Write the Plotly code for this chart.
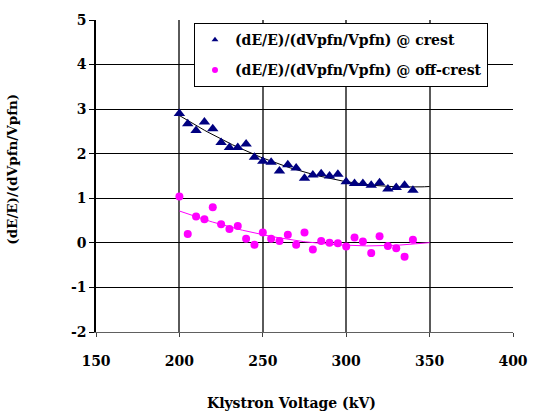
import numpy as np
import plotly.graph_objects as go

voltage = [200, 205, 210, 215, 220, 225, 230, 235, 240, 245, 250, 255, 260, 265,
           270, 275, 280, 285, 290, 295, 300, 305, 310, 315, 320, 325, 330, 335, 340]
crest = [2.90, 2.67, 2.52, 2.71, 2.56, 2.25, 2.14, 2.14, 2.22, 1.92, 1.83, 1.81, 1.61, 1.75,
         1.68, 1.45, 1.52, 1.55, 1.50, 1.54, 1.37, 1.33, 1.33, 1.29, 1.35, 1.21, 1.24, 1.29, 1.18]
offcrest = [1.04, 0.20, 0.59, 0.53, 0.80, 0.42, 0.31, 0.38, 0.09, -0.04, 0.23, 0.09, 0.04, 0.18,
            -0.04, 0.23, -0.15, 0.04, 0.00, -0.01, -0.08, 0.12, 0.03, -0.23, 0.15, -0.07, -0.12, -0.31, 0.07]
x_ticks = [150, 200, 250, 300, 350, 400]
y_ticks = [-2, -1, 0, 1, 2, 3, 4, 5]

fit_x = np.linspace(200, 350, 100)
fit_c = np.polyval(np.polyfit(voltage, crest, 2), fit_x)
fit_o = np.polyval(np.polyfit(voltage, offcrest, 2), fit_x)

NAVY = "#000080"
MAG = "#FF00FF"
FONT = "DejaVu Serif"

def f(size):
    return dict(family=FONT, size=size, color="black")

fig = go.Figure()
fig.add_trace(go.Scatter(x=fit_x, y=fit_c, mode="lines", line=dict(color="black", width=1), showlegend=False))
fig.add_trace(go.Scatter(x=fit_x, y=fit_o, mode="lines", line=dict(color=MAG, width=1), showlegend=False))
fig.add_trace(go.Scatter(x=voltage, y=crest, mode="markers", showlegend=False,
                         marker=dict(symbol="triangle-up", size=10, color=NAVY)))
fig.add_trace(go.Scatter(x=voltage, y=offcrest, mode="markers", showlegend=False,
                         marker=dict(symbol="circle", size=8, color=MAG)))
fig.add_trace(go.Scatter(x=[None], y=[None], mode="markers", name="<b>(dE/E)/(dVpfn/Vpfn) @ crest</b>",
                         legendgroup="a", marker=dict(symbol="triangle-up", size=6, color=NAVY)))
fig.add_trace(go.Scatter(x=[None], y=[None], mode="markers", name="<b>(dE/E)/(dVpfn/Vpfn) @ off-crest</b>",
                         legendgroup="b", marker=dict(symbol="circle", size=6, color=MAG)))

fig.add_annotation(text="<b>Klystron Voltage (kV)</b>", xref="paper", yref="paper",
                   x=0.47, y=-0.228, showarrow=False, font=f(14), xanchor="center", yanchor="middle")
fig.add_annotation(text="<b>(dE/E)/(dVpfn/Vpfn)</b>", xref="paper", yref="paper",
                   x=-0.2, y=0.522, showarrow=False, font=f(13.5), textangle=-90,
                   xanchor="center", yanchor="middle")

fig.update_layout(
    width=541, height=414,
    margin=dict(l=96, r=28, t=12, b=82),
    paper_bgcolor="white", plot_bgcolor="white",
    font=f(14),
    legend=dict(x=0.235, y=0.99, xanchor="left", yanchor="top",
                bgcolor="white", bordercolor="black", borderwidth=1,
                font=f(14), tracegroupgap=9, itemwidth=30, traceorder="grouped"),
    xaxis=dict(range=[150, 400], tickmode="array", tickvals=x_ticks,
               ticktext=[f"<b>{v}</b>" for v in x_ticks], tickfont=f(14),
               showgrid=True, gridcolor="rgb(90,90,90)", gridwidth=2,
               showline=True, linecolor="#606060", linewidth=1,
               ticks="outside", ticklen=4, tickcolor="#404040",
               ticklabelstandoff=12,
               zeroline=False, fixedrange=True),
    yaxis=dict(range=[-2, 5], tickmode="array", tickvals=y_ticks,
               ticktext=[f"<b>{v}</b>" for v in y_ticks], tickfont=f(14),
               showgrid=True, gridcolor="black", gridwidth=1,
               showline=True, linecolor="black", linewidth=1.5,
               ticks="outside", ticklen=5, tickcolor="black",
               zeroline=False, fixedrange=True),
)
fig.write_html("out.html")
